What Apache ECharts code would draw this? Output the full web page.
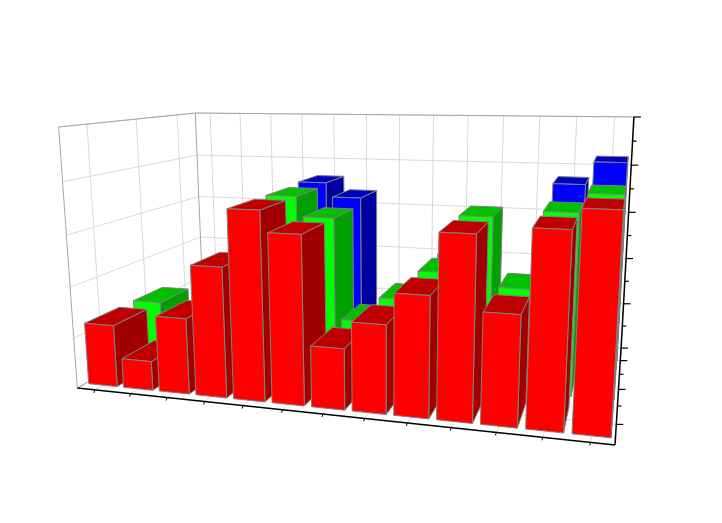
<!DOCTYPE html>
<html>
<head>
<meta charset="utf-8">
<style>
html,body{margin:0;padding:0;background:#fff}
#main{width:722px;height:523px}
</style>
<script src="https://cdn.jsdelivr.net/npm/echarts@6/dist/echarts.min.js"></script>
</head>
<body>
<div id="main"></div>
<script>
var categories = ['1','2','3','4','5','6','7','8','9','10','11','12','13'];
var redValues = [2.45,1.15,2.95,5.0,7.15,6.35,2.3,3.3,4.45,6.65,4,6.93,7.63];
var greenValues = [2.45,1.15,2.95,5.0,7.15,6.35,2.3,3.3,4.45,6.65,4,6.93,7.63];
var blueValues = [0.8,2.5,3.5,5.5,7.25,6.65,1.5,2.4,4.4,2.2,2.4,7.5,8.4];
var zTicks = [0,1,2,3,4,5,6,7,8,9,10];
var rowDepth = [1/6,1/2,5/6];
var rowMinor = [1/3,2/3];

// cube corners -> screen, used to solve the perspective camera
var corners = [
	[0,0,0,77,388],[1,0,0,615,445],[1,1,0,621,348],[1,1,1,634,117],
	[0,1,1,195,113],[0,0,1,59,127],[0,1,0,204,316]
];
var W = 722, H = 523;
var barWidth = 0.82, barDepth = 0.23;

function solveCamera() {
	var A = [], i, j, k, r;
	corners.forEach(function(c) {
		A.push([c[0],c[1],c[2],1,0,0,0,0,-c[3]*c[0],-c[3]*c[1],-c[3]*c[2],c[3]]);
		A.push([0,0,0,0,c[0],c[1],c[2],1,-c[4]*c[0],-c[4]*c[1],-c[4]*c[2],c[4]]);
	});
	var N = [];
	for (i = 0; i < 11; i++) {
		N.push([]);
		for (j = 0; j < 12; j++) {
			var s = 0;
			for (r = 0; r < A.length; r++) s += A[r][i] * A[r][j];
			N[i].push(s);
		}
	}
	for (i = 0; i < 11; i++) {
		var p = i;
		for (k = i + 1; k < 11; k++) if (Math.abs(N[k][i]) > Math.abs(N[p][i])) p = k;
		var t = N[i]; N[i] = N[p]; N[p] = t;
		for (k = 0; k < 11; k++) {
			if (k == i) continue;
			var f = N[k][i] / N[i][i];
			for (j = i; j < 12; j++) N[k][j] -= f * N[i][j];
		}
	}
	return N.map(function(row, n) { return row[11] / row[n]; });
}
var cam = solveCamera();

function project(x, y, z) {
	var w = cam[8]*x + cam[9]*y + cam[10]*z + 1;
	return [(cam[0]*x + cam[1]*y + cam[2]*z + cam[3]) / w, (cam[4]*x + cam[5]*y + cam[6]*z + cam[7]) / w];
}
// the hidden cartesian axes give the x and z scale, depth goes into the projection
function pt(api, cat, val, depth, dx) {
	var c = api.coord([cat, val]);
	var bw = api.size([1, 0])[0];
	return project((c[0] + dx * bw) / W, depth, (H - c[1]) / H);
}
function poly(points, fill) {
	return {
		type: 'polygon',
		shape: {points: points},
		style: {fill: fill, stroke: '#808080', lineWidth: 1}
	};
}
function line(a, b, color, width) {
	return {
		type: 'line',
		shape: {x1: a[0], y1: a[1], x2: b[0], y2: b[1]},
		style: {stroke: color, lineWidth: width || 1, fill: null}
	};
}

function barSeries(name, values, row, front, top, side) {
	return {
		name: name,
		type: 'custom',
		clip: false,
		data: values.map(function(v, i) { return [i, v]; }),
		encode: {x: 0, y: 1},
		renderItem: function(params, api) {
			var c = api.value(0), v = api.value(1);
			var y0 = rowDepth[row] - barDepth / 2, y1 = rowDepth[row] + barDepth / 2;
			var hw = barWidth / 2;
			var fbl = pt(api, c, 0, y0, -hw), fbr = pt(api, c, 0, y0, hw);
			var ftl = pt(api, c, v, y0, -hw), ftr = pt(api, c, v, y0, hw);
			var bbr = pt(api, c, 0, y1, hw);
			var btl = pt(api, c, v, y1, -hw), btr = pt(api, c, v, y1, hw);
			return {
				type: 'group',
				children: [
					poly([fbr, bbr, btr, ftr], side),
					poly([ftl, ftr, btr, btl], top),
					poly([fbl, fbr, ftr, ftl], front)
				]
			};
		}
	};
}

function renderFrame(params, api) {
	var gridC = '#d9d9d9', edgeC = '#a6a6a6', kids = [];
	var first = 0, last = categories.length - 1, hw = 0.5;
	var zMax = zTicks[zTicks.length - 1];
	// gridlines, major z levels only
	zTicks.forEach(function(t) {
		if (t % 2) return;
		kids.push(line(pt(api, first, t, 0, -hw), pt(api, first, t, 1, -hw), gridC));
		kids.push(line(pt(api, first, t, 1, -hw), pt(api, last, t, 1, hw), gridC));
	});
	categories.forEach(function(c, i) {
		kids.push(line(pt(api, i, 0, 1, 0), pt(api, i, zMax, 1, 0), gridC));
		kids.push(line(pt(api, i, 0, 0, 0), pt(api, i, 0, 1, 0), gridC));
	});
	rowDepth.forEach(function(d) {
		kids.push(line(pt(api, first, 0, d, -hw), pt(api, first, zMax, d, -hw), gridC));
		kids.push(line(pt(api, first, 0, d, -hw), pt(api, last, 0, d, hw), gridC));
	});
	// box edges
	kids.push(line(pt(api, first, 0, 0, -hw), pt(api, first, zMax, 0, -hw), edgeC));
	kids.push(line(pt(api, first, zMax, 0, -hw), pt(api, first, zMax, 1, -hw), edgeC));
	kids.push(line(pt(api, first, zMax, 1, -hw), pt(api, last, zMax, 1, hw), edgeC));
	kids.push(line(pt(api, first, 0, 1, -hw), pt(api, first, zMax, 1, -hw), edgeC));
	kids.push(line(pt(api, first, 0, 0, -hw), pt(api, first, 0, 1, -hw), edgeC));
	return {type: 'group', children: kids};
}

function renderAxes(params, api) {
	var kids = [], black = '#000';
	var first = 0, last = categories.length - 1, hw = 0.5;
	var zMax = zTicks[zTicks.length - 1];
	kids.push(line(pt(api, first, 0, 0, -hw), pt(api, last, 0, 0, hw), black, 1.5));
	kids.push(line(pt(api, last, 0, 0, hw), pt(api, last, 0, 1, hw), black, 1.5));
	kids.push(line(pt(api, last, 0, 1, hw), pt(api, last, zMax, 1, hw), black, 1.5));
	categories.forEach(function(c, i) {
		var a = pt(api, i, 0, 0, 0);
		kids.push(line(a, [a[0] - 1, a[1] + 3], black, 1));
	});
	zTicks.forEach(function(t) {
		var a = pt(api, last, t, 1, hw);
		kids.push(line(a, [a[0] + (t % 2 ? 4 : 7), a[1]], black, 1.2));
	});
	rowDepth.forEach(function(d) {
		var a = pt(api, last, 0, d, hw);
		kids.push(line(a, [a[0] + 7, a[1]], black, 1.2));
	});
	rowMinor.forEach(function(d) {
		var a = pt(api, last, 0, d, hw);
		kids.push(line(a, [a[0] + 4, a[1]], black, 1.2));
	});
	return {type: 'group', children: kids};
}

var myChart = echarts.init(document.getElementById('main'));
var option = {
	backgroundColor: '#fff',
	animation: false,
	grid: {left: 0, right: 0, top: 0, bottom: 0},
	xAxis: {type: 'category', data: categories, show: false},
	yAxis: {type: 'value', min: 0, max: 10, show: false},
	series: [
		{type: 'custom', clip: false, silent: true, data: [[0, 0]], renderItem: renderFrame},
		barSeries('blue', blueValues, 2, '#0000ff', '#0000c0', '#0000a0'),
		barSeries('green', greenValues, 1, '#00ff00', '#00c000', '#00a000'),
		barSeries('red', redValues, 0, '#ff0000', '#c00000', '#a00000'),
		{type: 'custom', clip: false, silent: true, data: [[0, 0]], renderItem: renderAxes}
	]
};
myChart.setOption(option);
</script>
</body>
</html>
